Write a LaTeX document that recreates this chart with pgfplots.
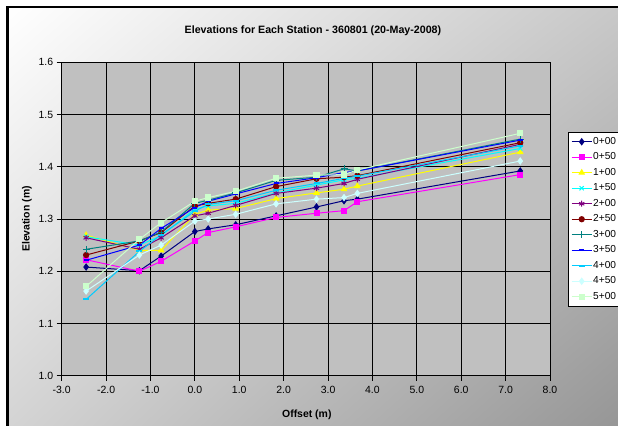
\documentclass[border=0pt]{standalone}
\usepackage{pgfplots}
\usepackage{pgfplotstable}
\pgfplotsset{compat=1.18}
\usetikzlibrary{shadings}
\usepackage{fontspec}
\setmainfont{Liberation Sans}
\definecolor{navyc}{HTML}{000080}
\definecolor{magc}{HTML}{FF00FF}
\definecolor{yelc}{HTML}{FFFF00}
\definecolor{cyanc}{HTML}{00FFFF}
\definecolor{purc}{HTML}{800080}
\definecolor{drc}{HTML}{800000}
\definecolor{tealc}{HTML}{008080}
\definecolor{bluc}{HTML}{0000FF}
\definecolor{skyc}{HTML}{00CCFF}
\definecolor{lcyc}{HTML}{CCFFFF}
\definecolor{lgrc}{HTML}{CCFFCC}
\definecolor{plotgray}{HTML}{C0C0C0}
\definecolor{bgur}{HTML}{C8C8C8}
\definecolor{bgll}{HTML}{D4D4D4}
\definecolor{bglr}{HTML}{969696}

\pgfplotstableread{
x     a     b     c     d     e     f     g     h     i     j     k
-2.45 1.208 1.222 1.269 1.266 1.264 1.231 1.242 1.221 1.146 1.162 1.171
-1.25 1.201 1.200 1.240 1.250 1.242 1.258 1.258 1.250 1.238 1.231 1.261
-0.76 1.229 1.219 1.240 1.268 1.264 1.274 1.275 1.282 1.270 1.250 1.293
0.00  1.276 1.258 1.309 1.319 1.306 1.325 1.330 1.322 1.315 1.296 1.334
0.30  1.281 1.274 1.317 1.325 1.311 1.330 1.336 1.334 1.328 1.300 1.341
0.92  1.289 1.285 1.320 1.330 1.326 1.338 1.350 1.348 1.335 1.309 1.353
1.83  1.306 1.303 1.339 1.350 1.349 1.362 1.374 1.368 1.355 1.329 1.378
2.74  1.323 1.311 1.350 1.365 1.359 1.377 1.380 1.379 1.368 1.338 1.384
3.36  1.335 1.316 1.357 1.375 1.368 1.380 1.396 1.389 1.378 1.341 1.385
3.66  1.338 1.333 1.363 1.378 1.376 1.383 1.392 1.392 1.382 1.349 1.394
7.33  1.392 1.385 1.428 1.435 1.443 1.446 1.453 1.451 1.440 1.411 1.464
}\data

\begin{document}
\begin{tikzpicture}
\useasboundingbox (0,0) rectangle (618bp,426bp);
\fill[white] (0,0) rectangle (618bp,426bp);
\shade[upper left=white, upper right=bgur, lower left=bgll, lower right=bglr] (7bp,0) rectangle (620bp,419bp);
\draw[black, line width=2.5bp] (7.25bp,-2bp) -- (7.25bp,418.75bp) -- (620bp,418.75bp);
\begin{axis}[
  at={(61.7bp,50.3bp)}, anchor=south west,
  scale only axis, width=488.3bp, height=313.4bp,
  xmin=-3, xmax=8, ymin=1.0, ymax=1.6,
  xtick={-3,-2,-1,0,1,2,3,4,5,6,7,8},
  ytick={1.0,1.1,1.2,1.3,1.4,1.5,1.6},
  grid=major, major grid style={black, line width=0.8bp},
  axis line style={black, line width=0.8bp},
  tick align=outside, major tick length=5bp,
  tick style={black, line width=0.8bp},
  tick pos=left,
  axis background/.style={fill=plotgray},
  ticklabel style={font=\fontsize{10.5}{12}\selectfont},
  /pgf/number format/fixed,
  /pgf/number format/fixed zerofill,
  /pgf/number format/precision=1,
  /pgf/number format/assume math mode=true,
  xticklabel shift=2bp,
  yticklabel shift=0bp,
  title={Elevations for Each Station - 360801 (20-May-2008)},
  title style={at={(rel axis cs:0.5146,1.082)}, anchor=center, font=\bfseries\fontsize{10.7}{13}\selectfont},
  xlabel={Offset (m)},
  xlabel style={at={(rel axis cs:0.502,-0.1254)}, anchor=center, font=\bfseries\fontsize{10.5}{12}\selectfont},
  ylabel={Elevation (m)},
  ylabel style={at={(rel axis cs:-0.0711,0.5)}, anchor=center, rotate=0, font=\bfseries\fontsize{10.5}{12}\selectfont},
  legend style={at={(1.0369,0.7767)}, anchor=north west, draw=black, fill=white,
    font=\fontsize{10.2}{12}\selectfont, inner sep=3bp, row sep=3bp,
    nodes={inner sep=1bp, text height=8bp, text depth=2.5bp}},
  legend cell align=left,
  legend image code/.code={\draw[mark repeat=2,mark phase=2] plot coordinates {(0bp,0bp) (10bp,0bp) (20bp,0bp)};},
  every axis plot/.append style={line width=1bp},
]
\addplot[color=navyc, mark=diamond*, mark size=3bp] table[x=x,y=a]{\data};
\addlegendentry{0+00}
\addplot[color=magc, mark=square*, mark size=2.5bp] table[x=x,y=b]{\data};
\addlegendentry{0+50}
\addplot[color=yelc, mark=triangle*, mark size=3bp] table[x=x,y=c]{\data};
\addlegendentry{1+00}
\addplot[color=cyanc, mark=x, mark size=3bp] table[x=x,y=d]{\data};
\addlegendentry{1+50}
\addplot[color=purc, mark=asterisk, mark size=3bp] table[x=x,y=e]{\data};
\addlegendentry{2+00}
\addplot[color=drc, mark=*, mark size=2.6bp] table[x=x,y=f]{\data};
\addlegendentry{2+50}
\addplot[color=tealc, mark=+, mark size=3.5bp] table[x=x,y=g]{\data};
\addlegendentry{3+00}
\addplot[color=bluc, mark=-, mark size=2.5bp, mark options={line width=2bp}] table[x=x,y=h]{\data};
\addlegendentry{3+50}
\addplot[color=skyc, mark=-, mark size=3bp, mark options={line width=2bp}] table[x=x,y=i]{\data};
\addlegendentry{4+00}
\addplot[color=lcyc, mark=diamond*, mark size=3bp] table[x=x,y=j]{\data};
\addlegendentry{4+50}
\addplot[color=lgrc, mark=square*, mark size=2.6bp] table[x=x,y=k]{\data};
\addlegendentry{5+00}
\end{axis}
\end{tikzpicture}
\end{document}
